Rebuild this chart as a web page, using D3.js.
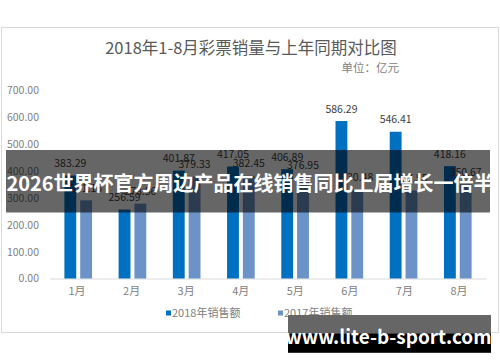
<!DOCTYPE html>
<html>
<head>
<meta charset="utf-8">
<script src="https://cdn.jsdelivr.net/npm/d3@7"></script>
<style>
  html, body { margin: 0; padding: 0; background: #ffffff; }
  svg { display: block; }
  text { font-family: "Noto Sans CJK SC", "Noto Sans", sans-serif; }
</style>
</head>
<body>
<svg id="chart" width="500" height="362"></svg>
<script>
// ---- data ----
const months = ["1月", "2月", "3月", "4月", "5月", "6月", "7月", "8月"];
const seriesNames = ["2018年销售额", "2017年销售额"];
const sales2018 = [383.29, 256.59, 401.87, 417.05, 406.89, 586.29, 546.41, 418.16];
const sales2017 = [291.16, 278.56, 379.33, 382.45, 376.95, 330.48, 327.55, 350.67];
const yTicks = [0, 100, 200, 300, 400, 500, 600, 700];
const titleText = "2018年1-8月彩票销量与上年同期对比图";
const unitText = "单位：亿元";
const bannerText = "2026世界杯官方周边产品在线销售同比上届增长一倍半";
const watermarkText = "www.lite-b-sport.com";
const colors = ["#0070c0", "#6b93c8"];

const svg = d3.select("#chart");

// background + frame
svg.append("rect").attr("x", 0).attr("y", 0).attr("width", 500).attr("height", 362).attr("fill", "#ffffff");
svg.append("rect").attr("x", 1.5).attr("y", 27.5).attr("width", 497).attr("height", 305)
  .attr("fill", "#ffffff").attr("stroke", "#d9d9d9").attr("stroke-width", 1);

// title & unit
svg.append("text").attr("x", 251).attr("y", 54).attr("text-anchor", "middle")
  .attr("font-size", "16.5px").attr("fill", "#595959").text(titleText);
svg.append("text").attr("x", 399).attr("y", 72).attr("text-anchor", "end")
  .attr("font-size", "11.5px").attr("fill", "#7f7f7f").text(unitText);

// scales
const x0 = d3.scaleBand().domain(months).range([49.75, 486.25]).paddingInner(0.49).paddingOuter(0.27);
const x1 = d3.scaleBand().domain(seriesNames).range([0, x0.bandwidth()]).paddingInner(0.25);
const y = d3.scaleLinear().domain([0, 700]).range([278.5, 90.5]);

// y axis
const yAxis = svg.append("g").attr("transform", "translate(40,0)")
  .call(d3.axisLeft(y).tickValues(yTicks).tickFormat(d3.format(".2f")).tickSize(0).tickPadding(1));
yAxis.select(".domain").remove();
yAxis.selectAll("text").attr("font-size", "10.5px").attr("fill", "#808080")
  .attr("font-family", "'Noto Sans CJK SC', sans-serif");

// x axis baseline + labels
const xAxis = svg.append("g").attr("transform", "translate(0,278.5)")
  .call(d3.axisBottom(d3.scaleBand().domain(months).range([49.75, 486.25])).tickSize(0).tickPadding(9));
xAxis.select(".domain").attr("stroke", "#d9d9d9");
xAxis.selectAll("text").attr("font-size", "11px").attr("fill", "#808080")
  .attr("font-family", "'Noto Sans CJK SC', sans-serif");

// bars
const rows = months.map((m, i) => ({ month: m, vals: [sales2018[i], sales2017[i]] }));
const groups = svg.append("g").selectAll("g").data(rows).join("g")
  .attr("transform", d => `translate(${x0(d.month)},0)`);
groups.selectAll("rect").data(d => d.vals.map((v, k) => ({ v, k }))).join("rect")
  .attr("x", d => x1(seriesNames[d.k]))
  .attr("y", d => y(d.v))
  .attr("width", x1.bandwidth())
  .attr("height", d => y(0) - y(d.v))
  .attr("fill", d => colors[d.k]);
groups.selectAll("text").data(d => d.vals.map((v, k) => ({ v, k }))).join("text")
  .attr("x", d => x1(seriesNames[d.k]) + x1.bandwidth() / 2)
  .attr("y", d => y(d.v) - 8.5)
  .attr("text-anchor", "middle")
  .attr("font-size", "10.5px").attr("fill", "#404040")
  .text(d => d3.format(".2f")(d.v));

// legend
const legendX = [166, 278];
const legend = svg.append("g").selectAll("g").data(seriesNames).join("g")
  .attr("transform", (d, i) => `translate(${legendX[i]},313)`);
legend.append("rect").attr("x", 0).attr("y", -2.5).attr("width", 5).attr("height", 5)
  .attr("fill", (d, i) => colors[i]);
legend.append("text").attr("x", 6).attr("y", 4).attr("font-size", "11px").attr("fill", "#808080").text(d => d);

// banner overlay
svg.append("rect").attr("x", 6).attr("y", 150).attr("width", 484).attr("height", 62.5)
  .attr("fill", "rgba(0,0,0,0.6)");
svg.append("text").attr("x", 250).attr("y", 190.5).attr("text-anchor", "middle")
  .attr("font-size", "20px").attr("font-weight", "bold").attr("fill", "#ffffff")
  .text(bannerText);

// watermark
svg.append("rect").attr("x", 288).attr("y", 315).attr("width", 203).attr("height", 18.3).attr("fill", "#666666");
svg.append("rect").attr("x", 288).attr("y", 333.3).attr("width", 203).attr("height", 19.5).attr("fill", "#000000");
svg.append("text").attr("x", 388.5).attr("y", 344).attr("text-anchor", "middle")
  .attr("font-family", "'Open Sans', 'Noto Sans', sans-serif")
  .attr("font-size", "19px").attr("font-weight", "bold").attr("fill", "#ffffff")
  .text(watermarkText);
</script>
</body>
</html>
